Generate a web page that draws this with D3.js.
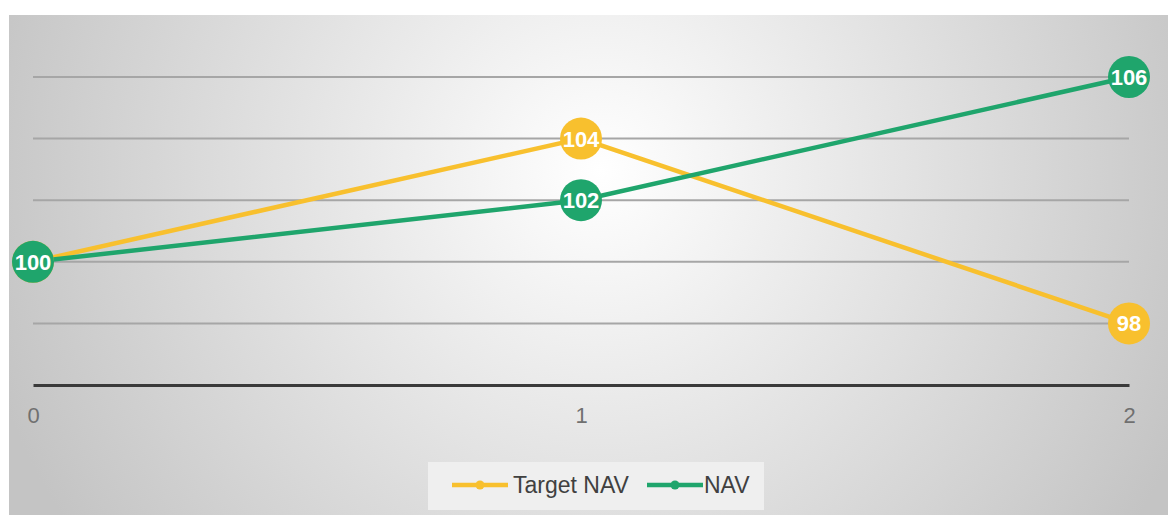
<!DOCTYPE html>
<html>
<head>
<meta charset="utf-8">
<script src="https://cdn.jsdelivr.net/npm/d3@7"></script>
<style>
	body { margin: 0; background: #fff; }
	svg { display: block; font-family: "Liberation Sans", Arial, sans-serif; }
</style>
</head>
<body>
<div id="viz"></div>
<script>
// chart values
var xTicks = [0, 1, 2];
var targetNav = [100, 104, 98];
var nav = [100, 102, 106];
var yTicks = [96, 98, 100, 102, 104, 106];
var seriesNames = ["Target NAV", "NAV"];
var seriesColors = ["#F8C02E", "#1FA56C"];

var width = 1168, height = 515;

var svg = d3.select("#viz")
	.append("svg")
	.attr("width", width)
	.attr("height", height);

// radial background
var grad = svg.append("defs").append("radialGradient")
	.attr("id", "bg")
	.attr("gradientUnits", "userSpaceOnUse")
	.attr("cx", 600).attr("cy", 170).attr("r", 640);
grad.append("stop").attr("offset", "0%").attr("stop-color", "#ffffff");
grad.append("stop").attr("offset", "100%").attr("stop-color", "#c4c4c4");

svg.append("rect")
	.attr("x", 9).attr("y", 15)
	.attr("width", width - 9).attr("height", height - 15)
	.attr("fill", "url(#bg)");

var x = d3.scaleLinear().domain([0, 2]).range([33, 1129]);
var y = d3.scaleLinear().domain([96, 106]).range([385, 77]);

// gridlines
svg.append("g")
	.selectAll("line")
	.data(yTicks.slice(1))
	.join("line")
	.attr("x1", x(0)).attr("x2", x(2))
	.attr("y1", function(d){ return y(d); })
	.attr("y2", function(d){ return y(d); })
	.attr("stroke", "#a6a6a6")
	.attr("stroke-width", 2);

// x axis
var xAxis = svg.append("g")
	.attr("transform", "translate(0," + y(96) + ")")
	.call(d3.axisBottom(x).tickValues(xTicks).tickFormat(d3.format("d")).tickSize(0).tickPadding(22));
xAxis.select(".domain").attr("stroke", "#3a3a3a").attr("stroke-width", 3);
xAxis.selectAll("text").attr("fill", "#707070").attr("font-size", 22);

var line = d3.line()
	.x(function(d, i){ return x(xTicks[i]); })
	.y(function(d){ return y(d); });

var allSeries = [targetNav, nav];

allSeries.forEach(function(vals, s){
	svg.append("path")
		.datum(vals)
		.attr("d", line)
		.attr("fill", "none")
		.attr("stroke", seriesColors[s])
		.attr("stroke-width", 4.5);
});

allSeries.forEach(function(vals, s){
	var g = svg.append("g");
	g.selectAll("circle")
		.data(vals)
		.join("circle")
		.attr("cx", function(d, i){ return x(xTicks[i]); })
		.attr("cy", function(d){ return y(d); })
		.attr("r", 21)
		.attr("fill", seriesColors[s]);
	g.selectAll("text")
		.data(vals)
		.join("text")
		.attr("x", function(d, i){ return x(xTicks[i]); })
		.attr("y", function(d){ return y(d) + 8; })
		.attr("text-anchor", "middle")
		.attr("fill", "#fff")
		.attr("font-weight", "bold")
		.attr("font-size", 22)
		.text(function(d){ return d; });
});

// legend
var legend = svg.append("g");
legend.append("rect")
	.attr("x", 428).attr("y", 462)
	.attr("width", 336).attr("height", 48)
	.attr("fill", "#efefef");

var legendX = [452, 647];
var textX = [513, 704];
seriesNames.forEach(function(name, s){
	legend.append("line")
		.attr("x1", legendX[s]).attr("x2", legendX[s] + 56)
		.attr("y1", 485).attr("y2", 485)
		.attr("stroke", seriesColors[s])
		.attr("stroke-width", 4.5);
	legend.append("circle")
		.attr("cx", legendX[s] + 28).attr("cy", 485)
		.attr("r", 4.5)
		.attr("fill", seriesColors[s]);
	legend.append("text")
		.attr("x", textX[s]).attr("y", 493)
		.attr("fill", "#404040")
		.attr("font-size", 23)
		.text(name);
});
</script>
</body>
</html>
